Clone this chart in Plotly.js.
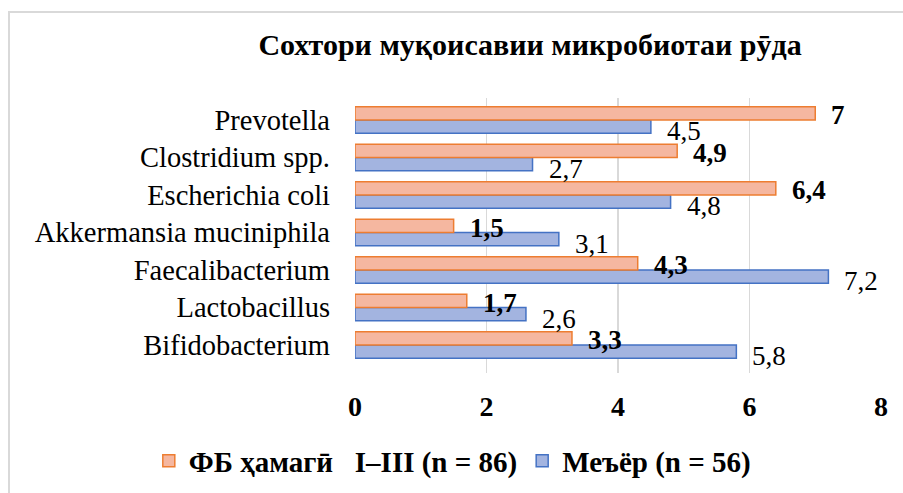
<!DOCTYPE html>
<html>
<head>
<meta charset="utf-8">
<script src="https://cdn.plot.ly/plotly-3.0.1.min.js"></script>
<style>
  html, body { margin: 0; padding: 0; background: #fff; }
  #wrap { position: relative; width: 903px; height: 493px; overflow: hidden; }
  #frame { position: absolute; left: 8px; top: 11px; width: 1000px; height: 1000px;
           border-left: 2px solid #d9d9d9; border-top: 2px solid #d9d9d9; pointer-events: none; }
  #chart { position: absolute; left: 0; top: 0; width: 903px; height: 493px; }
</style>
</head>
<body>
<div id="wrap">
  <div id="chart"></div>
  <div id="frame"></div>
</div>
<script>
// Categories listed top to bottom as in the picture
const categories = ["Prevotella", "Clostridium spp.", "Escherichia coli", "Akkermansia muciniphila",
                    "Faecalibacterium", "Lactobacillus", "Bifidobacterium"];
const fbValues   = [7, 4.9, 6.4, 1.5, 4.3, 1.7, 3.3];    // ФБ ҳамагӣ I–III (n = 86)
const normValues = [4.5, 2.7, 4.8, 3.1, 7.2, 2.6, 5.8];  // Меъёр (n = 56)
const fbName   = "ФБ ҳамагӣ\u00a0\u00a0\u00a0I–III (n = 86)";
const normName = "Меъёр (n = 56)";
const tickVals = [0, 2, 4, 6, 8];
const chartTitle = "Сохтори муқоисавии микробиотаи рӯда";

const serif = "Liberation Serif";
const fmt = v => String(v).replace('.', ',');

const traceNorm = {
  type: 'bar', orientation: 'h', name: '<b>' + normName + '</b>',
  y: categories, x: normValues, legendrank: 2,
  marker: { color: '#A3B4E0', line: { color: '#4472C4', width: 1.5 } },
  hoverinfo: 'skip'
};
const traceFb = {
  type: 'bar', orientation: 'h', name: '<b>' + fbName + '</b>',
  y: categories, x: fbValues, legendrank: 1,
  marker: { color: '#F5B7A0', line: { color: '#ED7D31', width: 1.5 } },
  hoverinfo: 'skip'
};

const annotations = [];
categories.forEach((c, i) => {
  annotations.push({
    x: fbValues[i], y: c, xref: 'x', yref: 'y', text: '<b>' + fmt(fbValues[i]) + '</b>',
    showarrow: false, xanchor: 'left', yanchor: 'middle', xshift: 14, yshift: 5,
    font: { family: serif, size: 27, color: '#000' }
  });
  annotations.push({
    x: normValues[i], y: c, xref: 'x', yref: 'y', text: fmt(normValues[i]),
    showarrow: false, xanchor: 'left', yanchor: 'middle', xshift: 14, yshift: -11,
    font: { family: serif, size: 27, color: '#000' }
  });
});

const layout = {
  width: 903, height: 493,
  margin: { l: 355, r: 22, t: 98, b: 120, pad: 0, autoexpand: false },
  paper_bgcolor: 'rgba(0,0,0,0)', plot_bgcolor: 'rgba(0,0,0,0)',
  title: { text: '<b>' + chartTitle + '</b>', x: 0.587, xanchor: 'center', y: 0.909, yanchor: 'middle',
           font: { family: serif, size: 30, color: '#000' } },
  barmode: 'group', bargap: 0.29, bargroupgap: 0,
  xaxis: {
    range: [0, 8], tickvals: tickVals, ticktext: tickVals.map(v => '<b>' + v + '</b>'),
    showgrid: true, gridcolor: '#d9d9d9', gridwidth: 1.5, zeroline: false, showline: false,
    ticks: '', ticklabelstandoff: 14, automargin: false,
    tickfont: { family: serif, size: 28, color: '#000' }
  },
  yaxis: {
    type: 'category', categoryorder: 'array', categoryarray: categories.slice().reverse(),
    showgrid: false, zeroline: false, showline: false, ticks: '', ticklabelstandoff: 24, automargin: false,
    tickfont: { family: serif, size: 28.5, color: '#000' }
  },
  showlegend: true,
  legend: { orientation: 'h', x: -0.392, xanchor: 'left', y: -0.32, yanchor: 'middle',
            font: { family: serif, size: 29, color: '#000' }, bgcolor: 'rgba(0,0,0,0)',
            traceorder: 'normal', itemwidth: 30 },
  annotations: annotations
};

Plotly.newPlot('chart', [traceNorm, traceFb], layout, { displayModeBar: false, staticPlot: true });
</script>
</body>
</html>
